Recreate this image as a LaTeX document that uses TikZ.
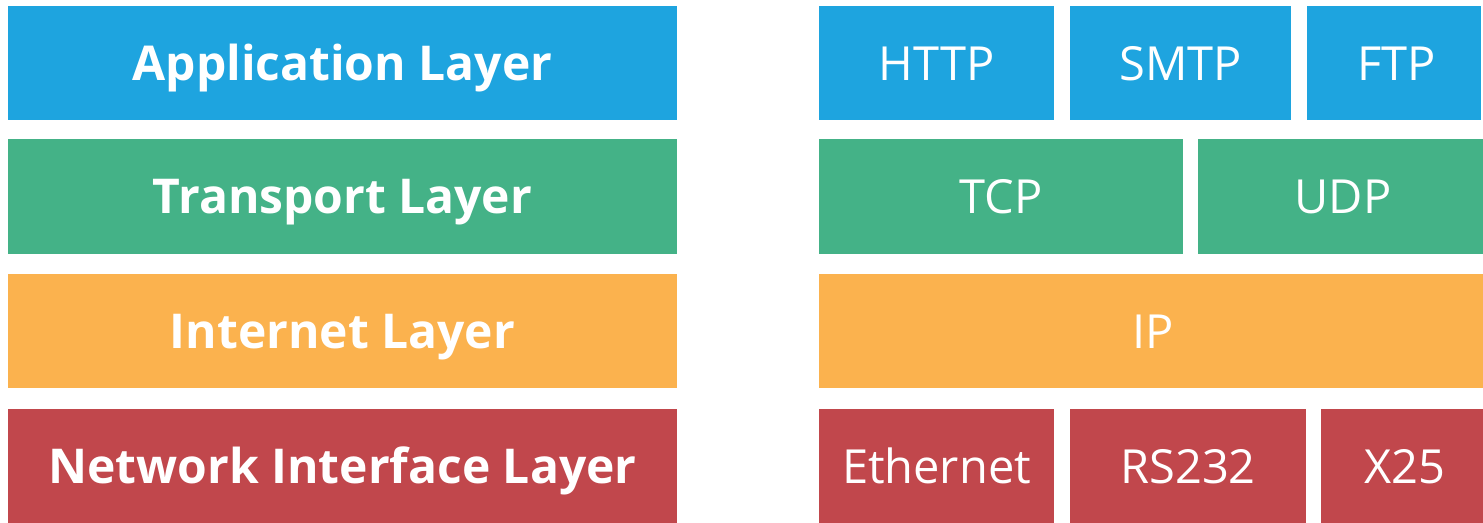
\documentclass[tikz,border=0pt]{standalone}
\usepackage{fontspec}
\setmainfont{Open Sans}
\definecolor{appblue}{RGB}{30,164,223}
\definecolor{trgreen}{RGB}{68,178,135}
\definecolor{netorange}{RGB}{251,178,78}
\definecolor{linkred}{RGB}{193,71,76}
\tikzset{
  layerbox/.style={fill=#1, draw=none, anchor=north west, inner sep=0pt, outer sep=0pt,
    text=white, text height=34pt, text depth=0pt, align=center},
  layername/.style={layerbox=#1, font=\fontsize{48}{50}\selectfont\bfseries},
  proto/.style={layerbox=#1, font=\fontsize{47}{50}\selectfont},
}
\begin{document}
\begin{tikzpicture}[x=1pt,y=-1pt]
\useasboundingbox (0,0) rectangle (1483,522);
% layer names, left column
\node[layername=appblue,   minimum width=669pt, minimum height=114pt] (app)  at (8,6)   {Application Layer};
\node[layername=trgreen,   minimum width=669pt, minimum height=115pt] (tr)   at (8,139) {Transport Layer};
\node[layername=netorange, minimum width=669pt, minimum height=114pt] (inet) at (8,274) {Internet Layer};
\node[layername=linkred,   minimum width=669pt, minimum height=114pt] (nif)  at (8,409) {Network Interface Layer};
% protocols, right column (the last box of each row runs past the edge)
\node[proto=appblue, minimum width=235pt, minimum height=114pt] (http) at (819,6)  {HTTP};
\node[proto=appblue, minimum width=221pt, minimum height=114pt] (smtp) at (1070,6) {SMTP};
\node[proto=appblue, minimum width=174pt, minimum height=114pt] (ftp)  at (1307,6) {\hspace*{6pt}FTP};
\node[proto=trgreen, minimum width=364pt, minimum height=115pt] (tcp)  at (819,139)  {TCP};
\node[proto=trgreen, minimum width=290pt, minimum height=115pt] (udp)  at (1198,139) {UDP};
\node[proto=netorange, minimum width=669pt, minimum height=114pt] (ip) at (819,274) {IP};
\node[proto=linkred, minimum width=235pt, minimum height=114pt] (eth)   at (819,409)  {Ethernet};
\node[proto=linkred, minimum width=236pt, minimum height=114pt] (rs232) at (1070,409) {RS232};
\node[proto=linkred, minimum width=167pt, minimum height=114pt] (x25)   at (1321,409) {X25};
\end{tikzpicture}
\end{document}
